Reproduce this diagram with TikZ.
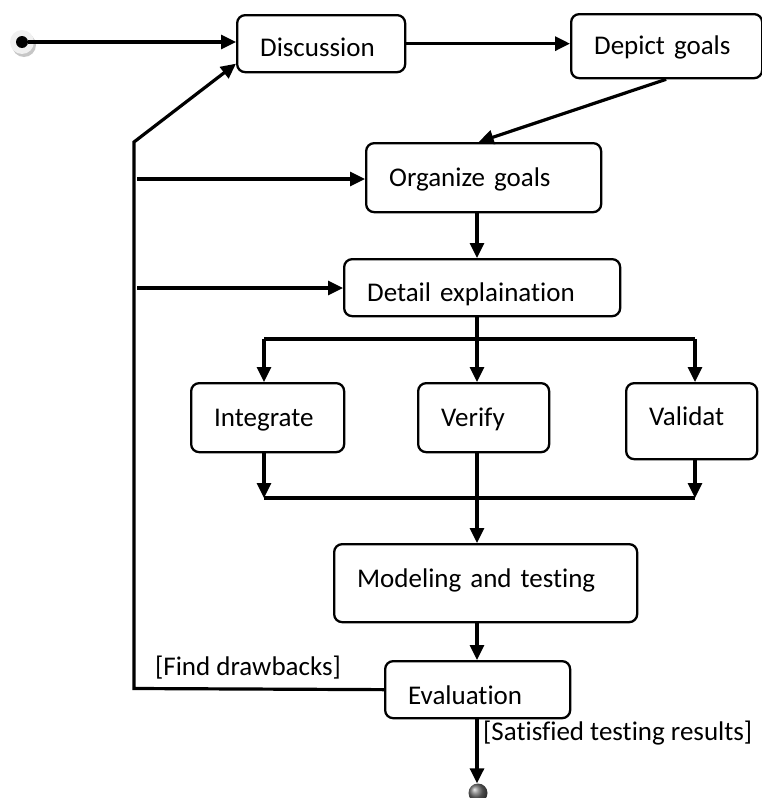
\documentclass[tikz,border=0pt]{standalone}
\usepackage{fontspec}
\setmainfont{Carlito}[Ligatures=NoCommon]
\usetikzlibrary{arrows.meta}
\begin{document}
\begin{tikzpicture}[x=1pt,y=-1pt,
  font=\fontsize{27}{32}\selectfont,
  box/.style={draw, line width=2.3pt, rounded corners=8pt, anchor=north west,
              inner xsep=23pt, inner ysep=0pt, align=left},
  tb/.style 2 args={text height=#1, text depth=#2},
  conn/.style={line width=3.2pt},
  arr/.style={conn, -{Triangle[length=15pt,width=14pt]}},
  lbl/.style={inner sep=0pt}]
\useasboundingbox (0,0) rectangle (762,798);

% initial state
\fill[gray!45] (24,45) circle[radius=12pt];
\fill[gray!12] (22,42) circle[radius=12pt];
\node[circle, fill=black, minimum size=12pt, inner sep=0pt] (start) at (22,42) {};

% activities
\node[box, minimum width=168pt, minimum height=57pt, text width=122pt, tb={29.4pt}{4pt}]
  (disc) at (236,14) {Discussion};
\node[box, minimum width=191pt, minimum height=64pt, text width=145pt, tb={25.4pt}{8pt}]
  (dep) at (570,13) {Depict goals};
\node[box, minimum width=235pt, minimum height=69pt, text width=189pt, tb={25.4pt}{8pt}]
  (org) at (365,142) {Organize goals};
\node[box, minimum width=276pt, minimum height=57pt, text width=230pt, tb={30.4pt}{3pt}]
  (det) at (343,258) {Detail explaination};
\node[box, minimum width=153pt, minimum height=69pt, text width=107pt, tb={25.4pt}{8pt}]
  (int) at (190,382) {Integrate};
\node[box, minimum width=131pt, minimum height=69pt, text width=85pt, tb={25.4pt}{8pt}]
  (ver) at (417,382) {Verify};
\node[box, minimum width=131pt, minimum height=76pt, text width=85pt, tb={21.4pt}{12pt}]
  (val) at (625,382) {Validat};
\node[box, minimum width=303pt, minimum height=78pt, text width=257pt, tb={21.4pt}{12pt}]
  (mod) at (333,543) {Modeling and testing};
\node[box, minimum width=185pt, minimum height=57pt, text width=139pt, tb={31.9pt}{1.5pt}]
  (eval) at (384,660) {Evaluation};

% final state
\node[circle, shading=ball, ball color=gray!85!black, minimum size=19pt, inner sep=0pt]
  (end) at (478,793) {};

% guard labels
\node[lbl] (fd) at (248,668) {[Find drawbacks]};
\node[lbl, anchor=west] (st) at (483,733) {[Satisfied testing results]};

% helper points
\coordinate (sp) at (477,0);
\coordinate (trb) at (134,688.5);
\coordinate (trt) at (134,142);
\coordinate (ao) at (137,179);
\coordinate (ad) at (137,288);
\coordinate (bl) at (264,339);
\coordinate (br) at (695,339);
\coordinate (jl) at (264,498);
\coordinate (jr) at (695,498);

% flow
\draw[arr] (start) -- (start -| disc.west);
\draw[arr] (disc.east) -- (disc.east -| dep.west);
\draw[arr] ([xshift=-0.5pt]dep.south) -- ([xshift=-5pt]org.north);
\draw[arr] (org.south -| sp) -- (sp |- det.north);
\draw[conn] (det.south -| sp) -- (sp |- bl);
\draw[conn] (bl) -- (br);
\draw[arr] (bl) -- (bl |- int.north);
\draw[arr] (sp |- bl) -- (sp |- ver.north);
\draw[arr] (br) -- (br |- val.north);
\draw[arr] (jl |- int.south) -- (jl);
\draw[arr] (jr |- val.south) -- (jr);
\draw[conn] (jl) -- (jr);
\draw[arr] (ver.south -| sp) -- (sp |- mod.north);
\draw[arr] (mod.south -| sp) -- (sp |- eval.north);
\draw[arr] (eval.south -| sp) -- (sp |- end.north);

% loop back on drawbacks
\draw[arr] (eval.west) -- (trb) -- (trt) -- ([yshift=-20pt]disc.west);
\draw[arr] (ao) -- (ao -| org.west);
\draw[arr] (ad) -- (ad -| det.west);
\end{tikzpicture}
\end{document}
